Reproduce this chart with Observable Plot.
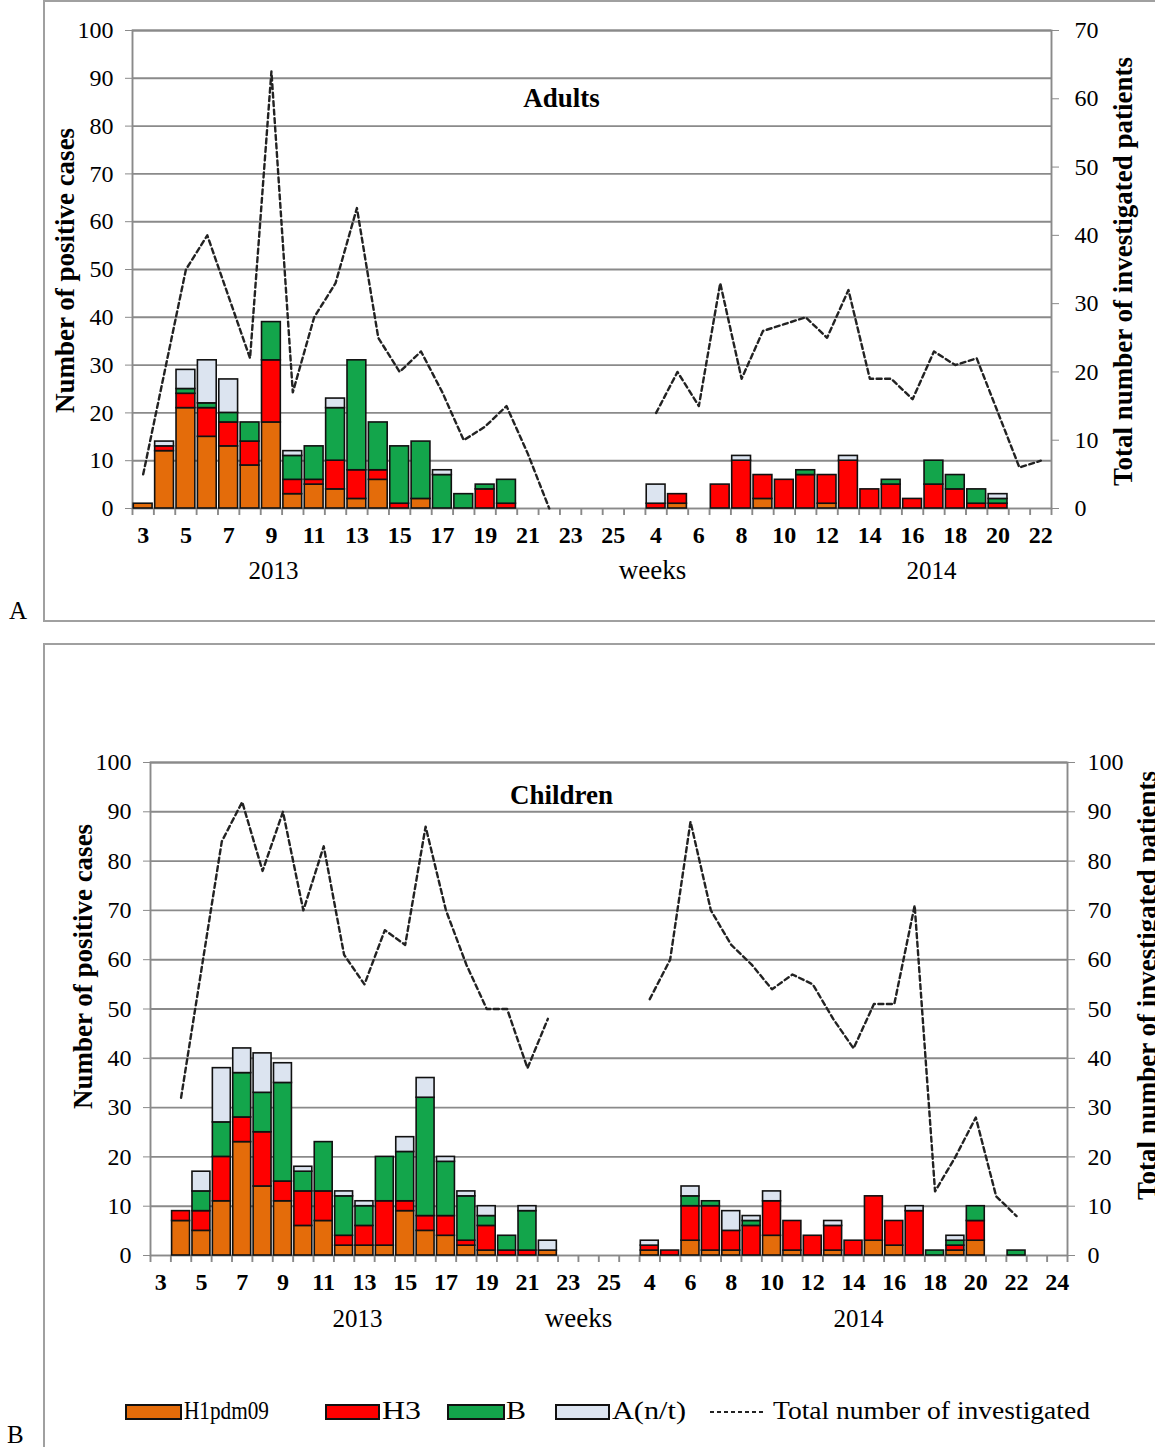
<!DOCTYPE html>
<html><head><meta charset="utf-8">
<script src="https://cdn.jsdelivr.net/npm/d3@7"></script>
<script src="https://cdn.jsdelivr.net/npm/@observablehq/plot@0.6"></script>
<style>
html,body{margin:0;padding:0;background:#fff;}
#page{position:relative;width:1155px;height:1447px;overflow:hidden;font-family:"Liberation Serif","Times New Roman",serif;background:#fff;}
.box{position:absolute;border:2px solid #a0a0a0;box-sizing:border-box;}
.abs{position:absolute;white-space:nowrap;}
.panel{position:absolute;left:0;}
g[aria-label="x-axis tick label"] text{font-weight:bold;}
.sw{position:absolute;height:16px;border:2px solid #111;box-sizing:border-box;}
.lg{position:absolute;font-size:26px;line-height:26px;transform-origin:0 50%;}
</style></head><body><div id="page"></div>
<script>
// ---------- data ----------
const typeNames = ["H1pdm09", "H3", "B", "A(n/t)"];
const typeColors = ["#E46C0A", "#FF0000", "#13A54B", "#DCE4F0"];

const leftTicks = [0, 10, 20, 30, 40, 50, 60, 70, 80, 90, 100];
const rightTicksA = [0, 10, 20, 30, 40, 50, 60, 70];
const rightTicksB = [0, 10, 20, 30, 40, 50, 60, 70, 80, 90, 100];

// Panel A (Adults): 2013 weeks 3-26, 2014 weeks 4-22
const weeksA2013 = [3,4,5,6,7,8,9,10,11,12,13,14,15,16,17,18,19,20,21,22,23,24,25,26];
const weeksA2014 = [4,5,6,7,8,9,10,11,12,13,14,15,16,17,18,19,20,21,22];
const xLabelsA = ["3","","5","","7","","9","","11","","13","","15","","17","","19","","21","","23","","25","",
                  "4","","6","","8","","10","","12","","14","","16","","18","","20","","22"];
const h1A = [1,12,21,15,13,9,18,3,5,4,2,6,0,2,0,0,0,0,0,0,0,0,0,0,
             0,1,0,0,0,2,0,0,1,0,0,0,0,0,0,0,0,0,0];
const h3A = [0,1,3,6,5,5,13,3,1,6,6,2,1,0,0,0,4,1,0,0,0,0,0,0,
             1,2,0,5,10,5,6,7,6,10,4,5,2,5,4,1,1,0,0];
const bA  = [0,0,1,1,2,4,8,5,7,11,23,10,12,12,7,3,1,5,0,0,0,0,0,0,
             0,0,0,0,0,0,0,1,0,0,0,1,0,5,3,3,1,0,0];
const aA  = [0,1,4,9,7,0,0,1,0,2,0,0,0,0,1,0,0,0,0,0,0,0,0,0,
             4,0,0,0,1,0,0,0,0,1,0,0,0,0,0,0,1,0,0];
const totalA = [5,20,35,40,31,22,64,17,28,33,44,25,20,23,17,10,12,15,8,0,null,null,null,null,
                14,20,15,33,19,26,27,28,25,32,19,19,16,23,21,22,14,6,7];

// Panel B (Children): 2013 weeks 3-26, 2014 weeks 4-24
const weeksB2013 = [3,4,5,6,7,8,9,10,11,12,13,14,15,16,17,18,19,20,21,22,23,24,25,26];
const weeksB2014 = [4,5,6,7,8,9,10,11,12,13,14,15,16,17,18,19,20,21,22,23,24];
const xLabelsB = ["3","","5","","7","","9","","11","","13","","15","","17","","19","","21","","23","","25","",
                  "4","","6","","8","","10","","12","","14","","16","","18","","20","","22","","24"];
const h1B = [0,7,5,11,23,14,11,6,7,2,2,2,9,5,4,2,1,0,0,1,0,0,0,0,
             1,0,3,1,1,0,4,1,0,1,0,3,2,0,0,1,3,0,0,0,0];
const h3B = [0,2,4,9,5,11,4,7,6,2,4,9,2,3,4,1,5,1,1,0,0,0,0,0,
             1,1,7,9,4,6,7,6,4,5,3,9,5,9,0,1,4,0,0,0,0];
const bB  = [0,0,4,7,9,8,20,4,10,8,4,9,10,24,11,9,2,3,8,0,0,0,0,0,
             0,0,2,1,0,1,0,0,0,0,0,0,0,0,1,1,3,0,1,0,0];
const aB  = [0,0,4,11,5,8,4,1,0,1,1,0,3,4,1,1,2,0,1,2,0,0,0,0,
             1,0,2,0,4,1,2,0,0,1,0,0,0,1,0,1,0,0,0,0,0];
const totalB = [null,32,58,84,92,78,90,70,83,61,55,66,63,87,70,59,50,50,38,48,null,null,null,null,
                52,60,88,70,63,59,54,57,55,48,42,51,51,71,13,20,28,12,8,null,null];

// ---------- helpers ----------
const W = 1155;
const gridColor = "#8a8a8a";
const serif = '"Liberation Serif", "Times New Roman", serif';

function makeCats(w1, w2) {
  return w1.map(w => "2013-" + w).concat(w2.map(w => "2014-" + w));
}
function longData(cats, series) {
  const out = [];
  cats.forEach((c, i) => typeNames.forEach((t, k) => {
    const v = series[k][i];
    if (v > 0) out.push({cat: c, type: t, value: v});
  }));
  return out;
}

function makePanel(cfg) {
  const cats = cfg.cats;
  const n = cats.length;
  const step = (W - cfg.ml - cfg.mr) / n;
  const labelOf = new Map(cats.map((c, i) => [c, cfg.labels[i]]));
  const bars = longData(cats, cfg.series);
  const k = 100 / cfg.rightMax;
  const line = cats.map((c, i) => ({cat: c, total: cfg.totals[i] == null ? NaN : cfg.totals[i] * k}));
  const at = (str, x, y, o) => Plot.text([str], Object.assign({
    text: d => d, frameAnchor: "top-left", textAnchor: "middle", lineAnchor: "middle",
    dx: x - cfg.ml, dy: y - cfg.mt, fill: "#000"
  }, o));
  return Plot.plot({
    width: W, height: cfg.height,
    marginLeft: cfg.ml, marginRight: cfg.mr, marginTop: cfg.mt, marginBottom: cfg.mb,
    style: {fontFamily: serif, fontSize: "24px", color: "#000", background: "transparent", overflow: "visible"},
    x: {domain: cats, paddingInner: 0.12, paddingOuter: 0.06, round: false, axis: null},
    y: {domain: [0, 100], axis: null},
    color: {domain: typeNames, range: typeColors},
    marks: [
      Plot.ruleY(leftTicks.filter(v => v > 0), {stroke: gridColor, strokeWidth: 1.9}),
      Plot.frame({stroke: gridColor, strokeWidth: 1.9}),
      Plot.axisY({ticks: leftTicks, tickSize: 7, tickPadding: cfg.lpad, stroke: gridColor, fill: "#000", fontSize: 24, label: null}),
      Plot.axisY({anchor: "right", ticks: cfg.rightTicks.map(v => v * k), tickFormat: v => String(Math.round(v / k)),
                  tickSize: 7, tickPadding: cfg.rpad, stroke: gridColor, fill: "#000", fontSize: 24, label: null}),
      Plot.axisX({tickSize: 0, tickPadding: cfg.xpad, tickFormat: d => labelOf.get(d), fontWeight: "bold", fill: "#000", fontSize: 24, label: null}),
      Plot.ruleX(cats, {x: d => d, y1: 0, y2: 0, insetBottom: -7, dx: -step / 2, stroke: gridColor, strokeWidth: 1.9}),
      Plot.ruleX(cats.slice(-1), {x: d => d, y1: 0, y2: 0, insetBottom: -7, dx: step / 2, stroke: gridColor, strokeWidth: 1.9}),
      Plot.barY(bars, {x: "cat", y: "value", fill: "type", stroke: "#111", strokeWidth: 1.6}),
      Plot.line(line, {x: "cat", y: "total", stroke: "#222", strokeWidth: 2.4, strokeDasharray: "5,3.5"}),
      at(cfg.title, cfg.titlePos[0], cfg.titlePos[1], {fontWeight: "bold", fontSize: 27}),
      at("Number of positive cases", cfg.leftTitle[0], cfg.leftTitle[1], {rotate: -90, fontWeight: "bold", fontSize: 27}),
      at("Total number of investigated patients", cfg.rightTitle[0], cfg.rightTitle[1], {rotate: -90, fontWeight: "bold", fontSize: 27}),
      at("2013", cfg.y2013[0], cfg.y2013[1], {fontSize: 25}),
      at("weeks", cfg.weeks[0], cfg.weeks[1], {fontSize: 27}),
      at("2014", cfg.y2014[0], cfg.y2014[1], {fontSize: 25})
    ]
  });
}

// ---------- layout ----------
const page = document.getElementById("page");
function addBox(l, t, w, h) {
  const d = document.createElement("div");
  d.className = "box";
  Object.assign(d.style, {left: l + "px", top: t + "px", width: w + "px", height: h + "px"});
  page.appendChild(d);
}
addBox(43, 0, 1130, 622);
addBox(43, 643, 1130, 830);

function addText(str, l, t, cls) {
  const d = document.createElement("div");
  d.className = cls || "abs";
  d.textContent = str;
  Object.assign(d.style, {left: l + "px", top: t + "px"});
  page.appendChild(d);
  return d;
}
const la = addText("A", 9, 597); la.style.fontSize = "25px";
const lb = addText("B", 7, 1421); lb.style.fontSize = "25px";

const plotA = makePanel({
  cats: makeCats(weeksA2013, weeksA2014), labels: xLabelsA,
  series: [h1A, h3A, bA, aA], totals: totalA, rightMax: 70, rightTicks: rightTicksA,
  height: 621, ml: 132, mr: 104, mt: 30, mb: 113, lpad: 12, rpad: 16, xpad: 17,
  title: "Adults", titlePos: [561, 98], leftTitle: [65, 270], rightTitle: [1123, 271],
  y2013: [273, 570], weeks: [652, 570], y2014: [931, 570]
});
const divA = document.createElement("div");
divA.className = "panel"; divA.style.top = "0px";
divA.appendChild(plotA); page.appendChild(divA);

const plotB = makePanel({
  cats: makeCats(weeksB2013, weeksB2014), labels: xLabelsB,
  series: [h1B, h3B, bB, aB], totals: totalB, rightMax: 100, rightTicks: rightTicksB,
  height: 804, ml: 150, mr: 88, mt: 119, mb: 192, lpad: 12, rpad: 13, xpad: 17,
  title: "Children", titlePos: [561, 152], leftTitle: [83, 323], rightTitle: [1147, 342],
  y2013: [357, 675], weeks: [578, 675], y2014: [858, 675]
});
const divB = document.createElement("div");
divB.className = "panel"; divB.style.top = "643px";
divB.appendChild(plotB); page.appendChild(divB);

// ---------- legend ----------
const swatchX = [125, 325, 447, 555];
const swatchW = [57, 55, 58, 55];
const labelX = [184, 382, 506, 612];
const labelW = [85, 39, 20, 74];
function fitWidth(el, target) {
  const w = el.getBoundingClientRect().width;
  el.style.transform = "scaleX(" + (target / w).toFixed(3) + ")";
}
typeNames.forEach((t, i) => {
  const s = document.createElement("div");
  s.className = "sw";
  Object.assign(s.style, {left: swatchX[i] + "px", top: "1404px", width: swatchW[i] + "px", background: typeColors[i]});
  page.appendChild(s);
  const l = addText(t, labelX[i], 1398, "abs lg");
  fitWidth(l, labelW[i]);
});
const ns = "http://www.w3.org/2000/svg";
const lsvg = document.createElementNS(ns, "svg");
lsvg.setAttribute("width", 60); lsvg.setAttribute("height", 10);
Object.assign(lsvg.style, {position: "absolute", left: "708px", top: "1407px"});
const ll = document.createElementNS(ns, "line");
ll.setAttribute("x1", 2); ll.setAttribute("x2", 58); ll.setAttribute("y1", 5); ll.setAttribute("y2", 5);
ll.setAttribute("stroke", "#222"); ll.setAttribute("stroke-width", 2); ll.setAttribute("stroke-dasharray", "4,3");
lsvg.appendChild(ll); page.appendChild(lsvg);
const lt = addText("Total number of investigated", 773, 1398, "abs lg");
fitWidth(lt, 317);
</script>
</body></html>
